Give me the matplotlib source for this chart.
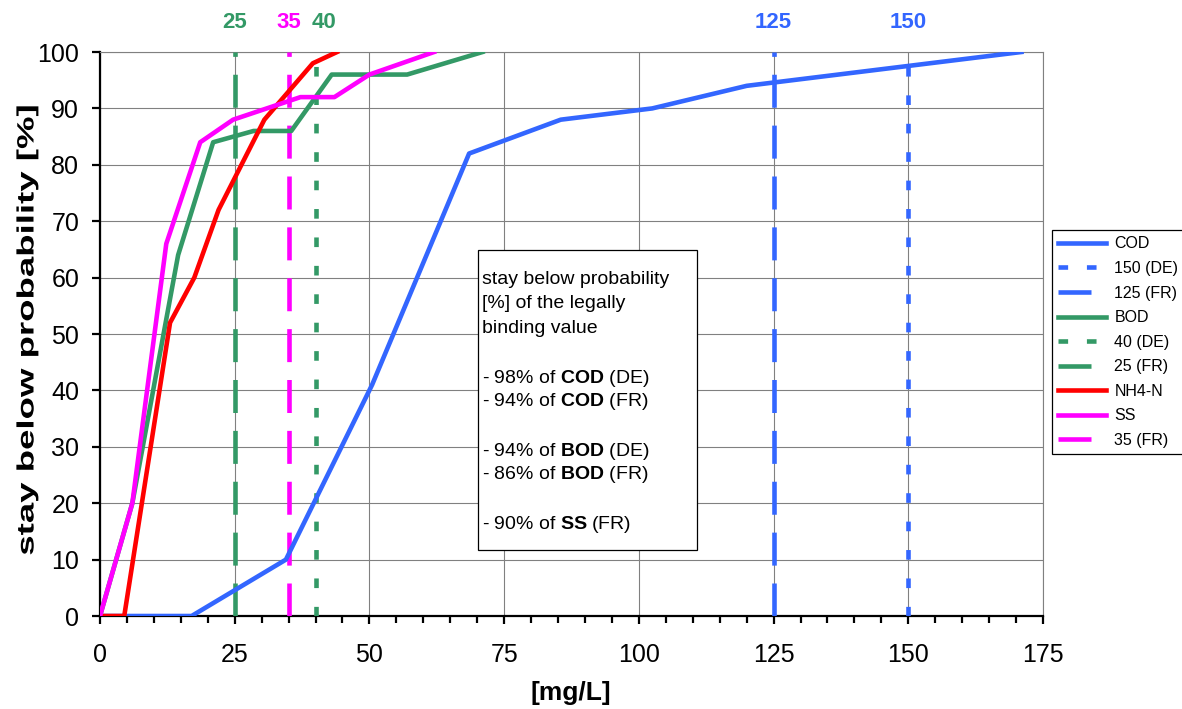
import matplotlib
matplotlib.use("Agg")
import matplotlib.pyplot as plt
from matplotlib.patches import Rectangle
from matplotlib.ticker import MultipleLocator
from matplotlib.patheffects import AbstractPathEffect
from matplotlib.transforms import Affine2D

# ---------------- data ----------------
cod_x = [0, 17, 34.5, 50.5, 68.5, 85.5, 102.5, 120, 171]
cod_y = [0, 0, 10, 41, 82, 88, 90, 94, 100]

bod_x = [0, 6, 14.5, 21, 28.5, 35.5, 43, 57, 71]
bod_y = [0, 20, 64, 84, 86, 86, 96, 96, 100]

nh4_x = [0, 4.5, 13, 17.5, 22, 30.5, 39.5, 44]
nh4_y = [0, 0, 52, 60, 72, 88, 98, 100]

ss_x = [0, 6, 12.3, 18.6, 24.7, 37.2, 43.5, 50, 62]
ss_y = [0, 20, 66, 84, 88, 92, 92, 96, 100]

# legal limits: value, label, colour key, style
limit_values = [150, 125, 40, 25, 35]
limit_labels = ["150 (DE)", "125 (FR)", "40 (DE)", "25 (FR)", "35 (FR)"]
limit_colors = ["cod", "cod", "bod", "bod", "ss"]
limit_styles = ["de", "fr", "de", "fr", "fr"]

box_lines = [
    "stay below probability",
    "[%] of the legally",
    "binding value",
    r"- 98% of $\mathbf{COD}$ (DE)",
    r"- 94% of $\mathbf{COD}$ (FR)",
    r"- 94% of $\mathbf{BOD}$ (DE)",
    r"- 86% of $\mathbf{BOD}$ (FR)",
    r"- 90% of $\mathbf{SS}$ (FR)",
]
box_line_px = [278, 302, 327, 377, 400, 450, 473, 523]

# ---------------- style ----------------
plt.rcParams["font.family"] = ["Liberation Sans", "DejaVu Sans"]
plt.rcParams["mathtext.fontset"] = "custom"
plt.rcParams["mathtext.rm"] = "Liberation Sans"
plt.rcParams["mathtext.bf"] = "Liberation Sans:bold"

colors = {"cod": "#3366FF", "bod": "#339966", "nh4": "#FF0000", "ss": "#FF00FF"}
lw = 3.3
dashes = {"de": (2.1, 4.1), "fr": (7.2, 3.9)}

W, H = 1182, 709
fig = plt.figure(figsize=(W / 100, H / 100), dpi=100)
ax = fig.add_axes([100 / W, 1 - 616 / H, (1043 - 100) / W, (616 - 52) / H])


class Stretch(AbstractPathEffect):
    # stretches the (rotated) y label along its length, like the original
    def __init__(self, factor, anchor):
        super().__init__()
        self.factor = factor
        self.anchor = anchor

    def draw_path(self, renderer, gc, tpath, affine, rgbFace=None):
        cx, cy = fig.transFigure.transform(self.anchor)
        extra = Affine2D().translate(-cx, -cy).scale(1, self.factor).translate(cx, cy)
        renderer.draw_path(gc, tpath, affine + extra, rgbFace)


handles = {}
handles["COD"], = ax.plot(cod_x, cod_y, color=colors["cod"], lw=lw, zorder=4)
handles["BOD"], = ax.plot(bod_x, bod_y, color=colors["bod"], lw=lw, zorder=4)
handles["NH4-N"], = ax.plot(nh4_x, nh4_y, color=colors["nh4"], lw=lw, zorder=4)
handles["SS"], = ax.plot(ss_x, ss_y, color=colors["ss"], lw=lw, zorder=4)

for v, lab, c, s in zip(limit_values, limit_labels, limit_colors, limit_styles):
    ln, = ax.plot([v, v], [0, 100], color=colors[c], lw=lw, zorder=3)
    ln.set_dashes(dashes[s])
    handles[lab] = ln

ax.set_xlim(0, 175)
ax.set_ylim(0, 100)
ax.xaxis.set_major_locator(MultipleLocator(25))
ax.xaxis.set_minor_locator(MultipleLocator(5))
ax.yaxis.set_major_locator(MultipleLocator(10))
ax.grid(True, which="major", color="#808080", lw=0.8)
ax.set_axisbelow(True)

for side in ["left", "bottom"]:
    ax.spines[side].set_linewidth(1.6)
    ax.spines[side].set_color("black")
for side in ["top", "right"]:
    ax.spines[side].set_linewidth(0.8)
    ax.spines[side].set_color("#808080")

ax.tick_params(axis="both", which="major", labelsize=18, width=1.6, length=6, direction="out")
ax.tick_params(axis="x", which="major", pad=13.5)
ax.tick_params(axis="y", which="major", pad=9)
ax.tick_params(axis="x", which="minor", width=1.6, length=5, direction="out")
ax.tick_params(top=False, right=False)

ylab_pos = (27 / W, 1 - 330 / H)
fig.text(ylab_pos[0], ylab_pos[1], "stay below probability [%]", rotation=90,
         ha="center", va="center", fontsize=17, fontweight="bold",
         path_effects=[Stretch(1.55, ylab_pos)])
fig.text(571 / W, 1 - 693 / H, "[mg/L]", ha="center", va="center",
         fontsize=19, fontweight="bold")

# limit labels above the plot
label_shift = {40: 6}
for v, c in zip(limit_values, limit_colors):
    ax.annotate(str(v), xy=(v, 1), xycoords=("data", "axes fraction"),
                xytext=(label_shift.get(v, 0), 21.5), textcoords="offset points",
                ha="center", va="center", fontsize=16, fontweight="bold",
                color=colors[c])

# text box
x0, x1 = (478 - 100) / 943, (697 - 100) / 943
y0, y1 = (616 - 550) / 564, (616 - 250) / 564
ax.add_patch(Rectangle((x0, y0), x1 - x0, y1 - y0, transform=ax.transAxes,
                       facecolor="white", edgecolor="black", lw=0.9, zorder=5))
for line, ypx in zip(box_lines, box_line_px):
    ax.text((482 - 100) / 943, (616 - (ypx + 6)) / 564, line, transform=ax.transAxes,
            ha="left", va="baseline", fontsize=14, zorder=6)

order = ["COD", "150 (DE)", "125 (FR)", "BOD", "40 (DE)", "25 (FR)", "NH4-N", "SS", "35 (FR)"]
leg = fig.legend([handles[k] for k in order], order, loc="upper left",
                 bbox_to_anchor=(1052 / W, 1 - 230 / H), fontsize=11.5,
                 frameon=True, fancybox=False, edgecolor="black", framealpha=1,
                 handlelength=3.0, handletextpad=0.5, labelspacing=0.6,
                 borderpad=0.4, borderaxespad=0)
leg.get_frame().set_linewidth(0.9)

fig.savefig("out.png", dpi=100)
